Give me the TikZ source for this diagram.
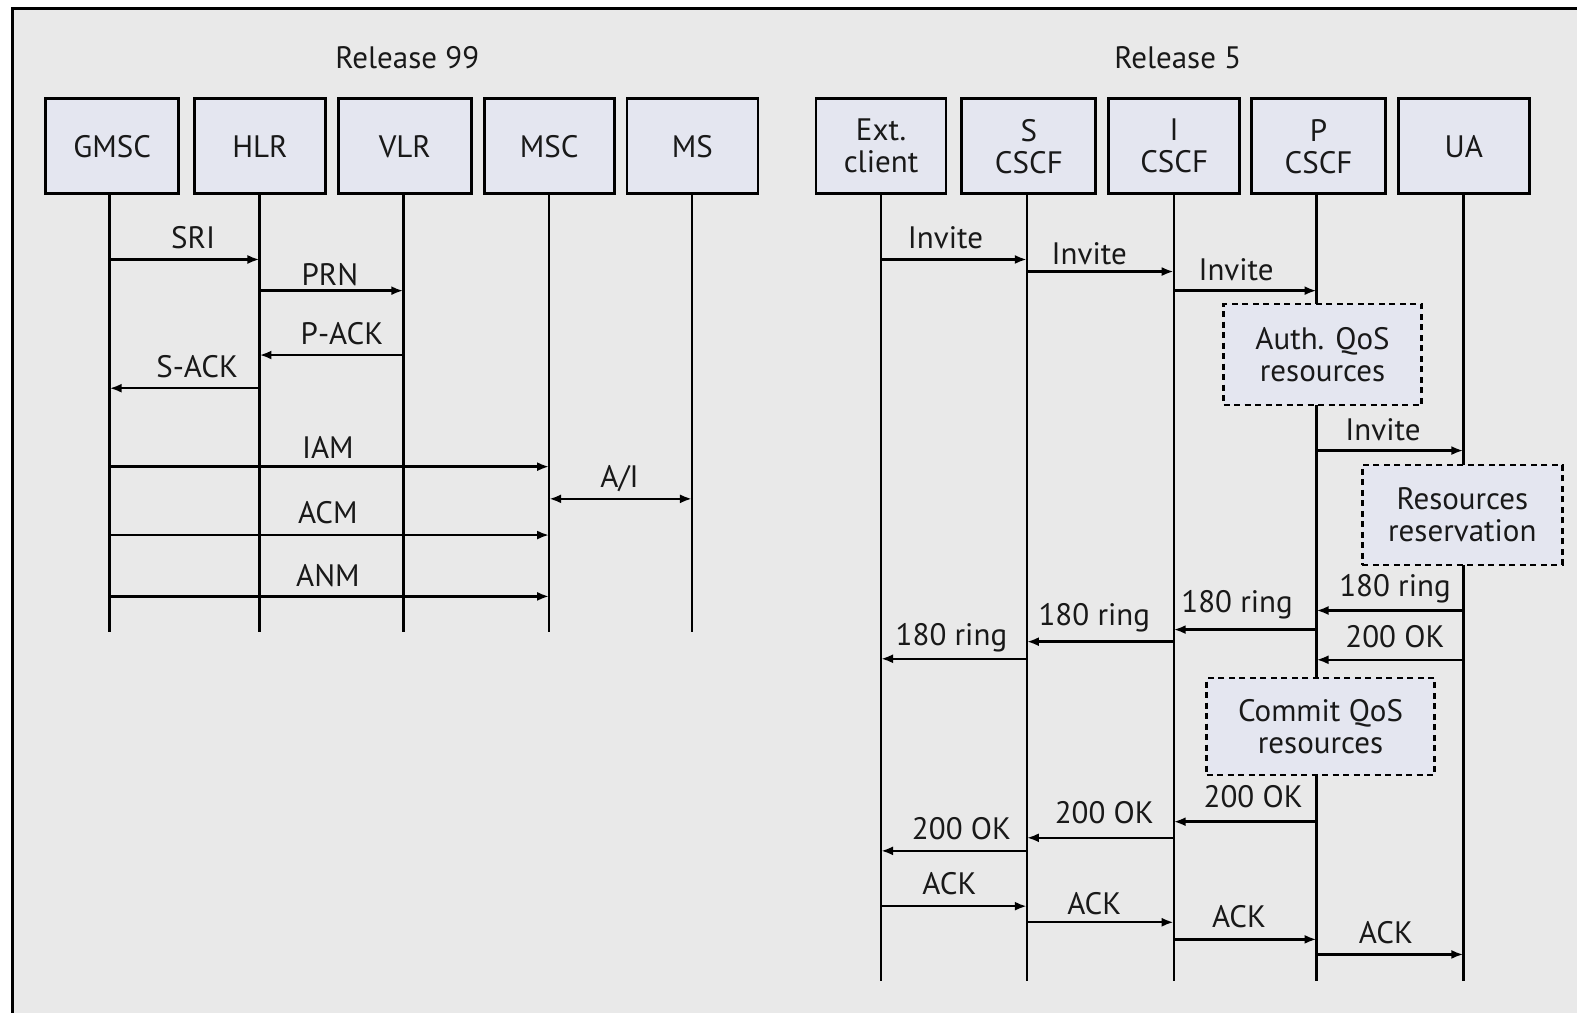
\documentclass[tikz,border=0pt]{standalone}
\usepackage{fontspec}
\setmainfont{PT Sans}
\usetikzlibrary{arrows.meta}
\definecolor{bg}{RGB}{233,233,233}
\definecolor{boxfill}{RGB}{228,230,240}
\begin{document}
\begin{tikzpicture}[x=1.00574pt,y=-1.00574pt,
  every node/.style={font=\fontsize{31}{32}\selectfont, inner sep=0pt, text=black!90},
  ent/.style={draw=black, line width=2.8pt, fill=boxfill, align=center, minimum height=95pt},
  act/.style={draw=black, line width=2.4pt, dash pattern=on 6pt off 4.5pt, fill=boxfill, align=center},
  life/.style={line width=2.4pt},
  msg/.style={line width=2.4pt, -{Latex[length=12pt,width=9pt]}},
  bmsg/.style={line width=2.4pt, {Latex[length=12pt,width=9pt]}-{Latex[length=12pt,width=9pt]}},
  lbl/.style={anchor=center}
]
\useasboundingbox (0,0) rectangle (1568,1007);
\clip (0,0) rectangle (1568,1007);
\fill[white] (0,0) rectangle (1568,1007);
\filldraw[fill=bg, draw=black, line width=3pt] (12,8) rectangle (1600,1040);

% headers
\node (r99) at (405,57) {Release 99};
\node (r5) at (1171,57) {Release 5};

% lifeline x coordinates
\coordinate (gmscL) at (109,0);
\coordinate (hlrL) at (258,0);
\coordinate (vlrL) at (401,0);
\coordinate (mscL) at (546,0);
\coordinate (msL) at (688,0);
\coordinate (extL) at (876,0);
\coordinate (sL) at (1021,0);
\coordinate (iL) at (1167,0);
\coordinate (pL) at (1309,0);
\coordinate (uaL) at (1455,0);

% entity boxes
\node[ent, minimum width=133pt] (gmsc) at (111.5,145.5) {GMSC};
\node[ent, minimum width=131pt] (hlr) at (258.5,145.5) {HLR};
\node[ent, minimum width=133pt] (vlr) at (402.5,145.5) {VLR};
\node[ent, minimum width=130pt] (msc) at (546,145.5) {MSC};
\node[ent, minimum width=131pt] (ms) at (688.5,145.5) {MS};
\node[ent, minimum width=130pt] (ext) at (876,145.5) {Ext.\\client};
\node[ent, minimum width=134pt] (scscf) at (1023,145.5) {S\\CSCF};
\node[ent, minimum width=131pt] (icscf) at (1167.5,145.5) {I\\CSCF};
\node[ent, minimum width=134pt] (pcscf) at (1311,145.5) {P\\CSCF};
\node[ent, minimum width=131pt] (ua) at (1455.5,145.5) {UA};

% lifelines
\draw[life] (gmsc.south -| gmscL) -- (gmscL |- 0,628);
\draw[life] (hlr.south -| hlrL) -- (hlrL |- 0,628);
\draw[life] (vlr.south -| vlrL) -- (vlrL |- 0,628);
\draw[life] (msc.south -| mscL) -- (mscL |- 0,628);
\draw[life] (ms.south -| msL) -- (msL |- 0,628);
\draw[life] (ext.south -| extL) -- (extL |- 0,975);
\draw[life] (scscf.south -| sL) -- (sL |- 0,975);
\draw[life] (icscf.south -| iL) -- (iL |- 0,975);
\draw[life] (pcscf.south -| pL) -- (pL |- 0,975);
\draw[life] (ua.south -| uaL) -- (uaL |- 0,975);

% Release 99 messages
\draw[msg] (gmscL |- 0,258) -- (hlrL |- 0,258);
\node[lbl] (tSRI) at (192,236) {SRI};
\draw[msg] (hlrL |- 0,289) -- (vlrL |- 0,289);
\node[lbl] (tPRN) at (328,273) {PRN};
\draw[msg] (vlrL |- 0,353) -- (hlrL |- 0,353);
\node[lbl] (tPACK) at (340,332) {P-ACK};
\draw[msg] (hlrL |- 0,386) -- (gmscL |- 0,386);
\node[lbl] (tSACK) at (196,365) {S-ACK};
\draw[msg] (gmscL |- 0,464) -- (mscL |- 0,464);
\node[lbl] (tIAM) at (326,445) {IAM};
\draw[bmsg] (mscL |- 0,496) -- (msL |- 0,496);
\node[lbl] (tAI) at (616,476) {A/I};
\draw[msg] (gmscL |- 0,532) -- (mscL |- 0,532);
\node[lbl] (tACM) at (326,510) {ACM};
\draw[msg] (gmscL |- 0,593) -- (mscL |- 0,593);
\node[lbl] (tANM) at (326,572) {ANM};

% Release 5 activity boxes
\node[act, minimum width=198pt, minimum height=101pt] (auth) at (1315,352.5) {Auth. QoS\\resources};
\node[act, minimum width=200pt, minimum height=100pt] (resv) at (1454,512) {Resources\\reservation};
\node[act, minimum width=228pt, minimum height=97pt] (commit) at (1313,722.5) {Commit QoS\\resources};

% Release 5 messages
\draw[msg] (extL |- 0,258) -- (sL |- 0,258);
\node[lbl] (tInv1) at (940,236) {Invite};
\draw[msg] (sL |- 0,270) -- (iL |- 0,270);
\node[lbl] (tInv2) at (1083,252) {Invite};
\draw[msg] (iL |- 0,289) -- (pL |- 0,289);
\node[lbl] (tInv3) at (1229,268) {Invite};
\draw[msg] (pL |- 0,448) -- (uaL |- 0,448);
\node[lbl] (tInv4) at (1375,427) {Invite};

\draw[msg] (uaL |- 0,607) -- (pL |- 0,607);
\node[lbl] (tR1) at (1387,585) {180 ring};
\draw[msg] (pL |- 0,626) -- (iL |- 0,626);
\node[lbl] (tR2) at (1230,601) {180 ring};
\draw[msg] (iL |- 0,638) -- (sL |- 0,638);
\node[lbl] (tR3) at (1088,614) {180 ring};
\draw[msg] (sL |- 0,655) -- (extL |- 0,655);
\node[lbl] (tR4) at (946,634) {180 ring};
\draw[msg] (uaL |- 0,656) -- (pL |- 0,656);
\node[lbl] (tOK1) at (1387,633) {200 OK};

\draw[msg] (pL |- 0,817) -- (iL |- 0,817);
\node[lbl] (tOK2) at (1246,792) {200 OK};
\draw[msg] (iL |- 0,833) -- (sL |- 0,833);
\node[lbl] (tOK3) at (1098,808) {200 OK};
\draw[msg] (sL |- 0,846) -- (extL |- 0,846);
\node[lbl] (tOK4) at (956,824) {200 OK};

\draw[msg] (extL |- 0,901) -- (sL |- 0,901);
\node[lbl] (tA1) at (944,879) {ACK};
\draw[msg] (sL |- 0,917) -- (iL |- 0,917);
\node[lbl] (tA2) at (1088,898) {ACK};
\draw[msg] (iL |- 0,934) -- (pL |- 0,934);
\node[lbl] (tA3) at (1232,911) {ACK};
\draw[msg] (pL |- 0,949) -- (uaL |- 0,949);
\node[lbl] (tA4) at (1378,927) {ACK};
\end{tikzpicture}
\end{document}
